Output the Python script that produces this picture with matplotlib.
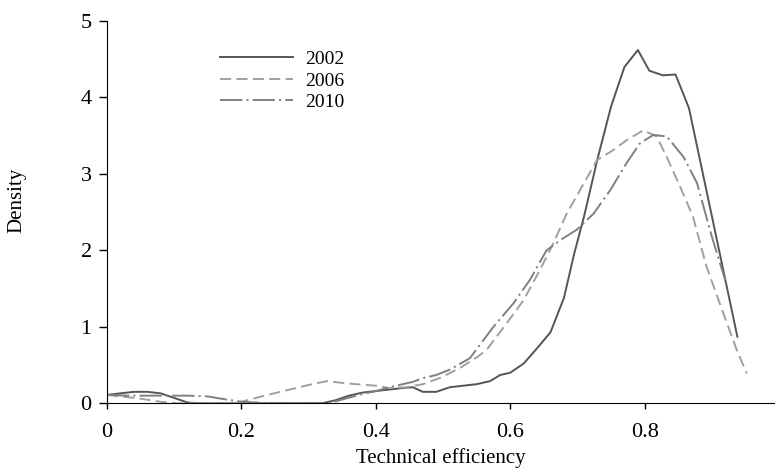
import matplotlib
matplotlib.use("Agg")
import matplotlib.pyplot as plt

# kernel density estimates
x2002 = [0.0, 0.02, 0.04, 0.06, 0.08, 0.10, 0.12, 0.14, 0.20, 0.26, 0.32, 0.34, 0.36,
         0.38, 0.40, 0.42, 0.44, 0.455, 0.47, 0.49, 0.51, 0.53, 0.55, 0.57, 0.585,
         0.60, 0.62, 0.64, 0.66, 0.68, 0.695, 0.71, 0.73, 0.75, 0.77, 0.79, 0.807,
         0.827, 0.846, 0.866, 0.90, 0.938]
y2002 = [0.11, 0.13, 0.15, 0.15, 0.13, 0.07, 0.01, 0.0, 0.0, 0.0, 0.0, 0.04, 0.10,
         0.14, 0.16, 0.18, 0.20, 0.21, 0.15, 0.15, 0.21, 0.23, 0.25, 0.29, 0.37,
         0.40, 0.52, 0.72, 0.93, 1.38, 1.95, 2.45, 3.20, 3.88, 4.40, 4.62, 4.35,
         4.29, 4.30, 3.86, 2.45, 0.87]

x2006 = [0.0, 0.02, 0.046, 0.08, 0.105, 0.19, 0.20, 0.23, 0.265, 0.30, 0.327, 0.357,
         0.40, 0.42, 0.445, 0.47, 0.495, 0.525, 0.55, 0.565, 0.595, 0.62, 0.644,
         0.664, 0.684, 0.704, 0.729, 0.753, 0.773, 0.798, 0.818, 0.833, 0.853,
         0.872, 0.892, 0.917, 0.937, 0.952]
y2006 = [0.11, 0.09, 0.065, 0.02, 0.0, 0.0, 0.02, 0.09, 0.165, 0.24, 0.29, 0.26,
         0.23, 0.20, 0.21, 0.25, 0.33, 0.46, 0.60, 0.70, 1.05, 1.35, 1.74,
         2.09, 2.48, 2.79, 3.18, 3.31, 3.44, 3.57, 3.49, 3.22, 2.83,
         2.44, 1.79, 1.18, 0.70, 0.39]

x2010 = [0.0, 0.03, 0.06, 0.09, 0.12, 0.15, 0.17, 0.20, 0.25, 0.33, 0.35, 0.38, 0.40,
         0.425, 0.455, 0.47, 0.49, 0.51, 0.54, 0.575, 0.605, 0.629, 0.654, 0.679,
         0.699, 0.724, 0.749, 0.773, 0.793, 0.813, 0.833, 0.858, 0.878, 0.90, 0.92]
y2010 = [0.11, 0.10, 0.10, 0.10, 0.10, 0.09, 0.06, 0.02, 0.0, 0.0, 0.05, 0.12, 0.16,
         0.22, 0.28, 0.33, 0.37, 0.44, 0.59, 1.00, 1.31, 1.61, 2.00, 2.16,
         2.27, 2.48, 2.79, 3.14, 3.40, 3.51, 3.49, 3.22, 2.88, 2.18, 1.61]

xticks = [0, 0.2, 0.4, 0.6, 0.8]
xticklabels = ["0", "0.2", "0.4", "0.6", "0.8"]
yticks = [0, 1, 2, 3, 4, 5]

plt.rcParams['font.family'] = ['Liberation Serif', 'DejaVu Serif']
plt.rcParams['lines.scale_dashes'] = False

fig = plt.figure(figsize=(7.75, 4.75), dpi=100)
ax = fig.add_axes([107/775, 71.7/475, 668/775, 382.3/475])

ax.plot(x2002, y2002, color='#555555', lw=1.4, label='2002')
ax.plot(x2006, y2006, color='#a0a0a0', lw=1.4, dashes=(8, 3.8), label='2006')
ax.plot(x2010, y2010, color='#808080', lw=1.4, dashes=(16, 3, 1.5, 3), label='2010')

ax.set_xlim(0, 0.994)
ax.set_ylim(0, 5)
ax.set_xticks(xticks)
ax.set_xticklabels(xticklabels)
ax.set_yticks(yticks)
ax.spines['top'].set_visible(False)
ax.spines['right'].set_visible(False)
ax.tick_params(axis='x', direction='out', length=4, width=1, pad=10, labelsize=16)
ax.tick_params(axis='y', direction='out', length=6, width=1, pad=5, labelsize=16)

ax.set_xlabel('Technical efficiency', fontsize=15)
ax.xaxis.set_label_coords(0.5, -0.118)
ax.set_ylabel('Density', fontsize=15)
ax.yaxis.set_label_coords(-0.12, 0.53)

ax.legend(loc='upper left', bbox_to_anchor=(0.158, 0.943), frameon=False,
          fontsize=14, handlelength=3.75, handletextpad=0.6, labelspacing=0.2,
          borderaxespad=0)

fig.savefig('out.png', dpi=100)
